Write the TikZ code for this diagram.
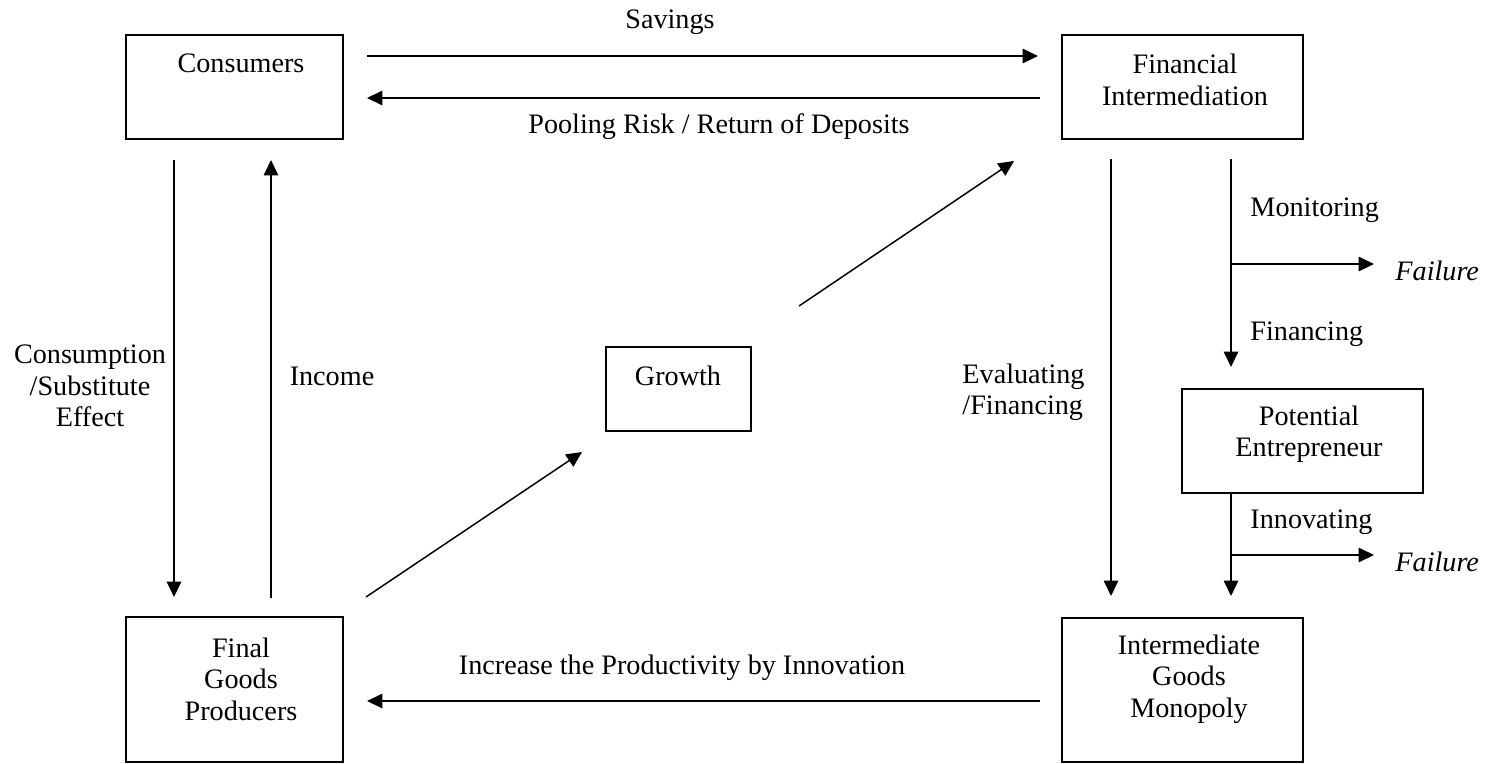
\documentclass[tikz,border=0pt]{standalone}
\usepackage{fontspec}
\setmainfont{Liberation Serif}
\usetikzlibrary{arrows.meta,fit}
\begin{document}
\begin{tikzpicture}[x=0.44pt,y=-0.44pt,
  box/.style={draw,line width=0.7pt,inner sep=0pt},
  txt/.style={inner sep=0pt,font=\fontsize{12.4}{13.8}\selectfont,align=center},
  itx/.style={txt,anchor=west,font=\fontsize{12.4}{13.8}\selectfont\itshape},
  conn/.style={line width=0.65pt,-{Triangle[length=6.8pt,width=6.4pt]}}]
\useasboundingbox (0,0) rectangle (1486,763);
% boxes
\node[box,fit={(126,35) (343,139)}] (cons) {};
\node[box,fit={(1062,35) (1303,139)}] (fin) {};
\node[box,fit={(606,347) (751,431)}] (grow) {};
\node[box,fit={(1182,389) (1423,493)}] (pe) {};
\node[box,fit={(1062,618) (1303,762)}] (ig) {};
\node[box,fit={(126,617) (343,762)}] (fg) {};
% box texts
\node[txt] (tcons) at (241,63) {Consumers};
\node[txt] (tfin) at (1185,80) {Financial\\Intermediation};
\node[txt] (tgrow) at (678,376) {Growth};
\node[txt] (tpe) at (1309,434) {Potential\\Entrepreneur};
\node[txt] (tig) at (1189,679) {Intermediate\\Goods\\Monopoly};
\node[txt] (tfg) at (241,679) {Final\\Goods\\Producers};
% labels
\node[txt] (lsav) at (670,22) {Savings};
\node[txt] (lpool) at (719,127) {Pooling Risk / Return of Deposits};
\node[txt] (lcons) at (90,386) {Consumption\\/Substitute\\Effect};
\node[txt] (linc) at (332,376) {Income};
\node[txt,anchor=west,align=left] (leval) at (962,392) {Evaluating\\/Financing};
\node[txt,anchor=west] (lmon) at (1250,210) {Monitoring};
\node[txt,anchor=west] (lfinc) at (1250,334) {Financing};
\node[txt,anchor=west] (linn) at (1250,522) {Innovating};
\node[itx] (fail1) at (1395,271) {Failure};
\node[itx] (fail2) at (1395,562) {Failure};
\node[txt] (lincr) at (682,668) {Increase the Productivity by Innovation};
% connector end points
\coordinate (savA) at (367,56); \coordinate (savB) at (1038,56);
\coordinate (retA) at (1040,98); \coordinate (retB) at (367,98);
\coordinate (conA) at (174,160); \coordinate (conB) at (174,597);
\coordinate (incA) at (271,598); \coordinate (incB) at (271,160);
\coordinate (g1A) at (366,597); \coordinate (g1B) at (582,452);
\coordinate (g2A) at (799,306); \coordinate (g2B) at (1014,161);
\coordinate (evA) at (1111,159); \coordinate (evB) at (1111,596);
\coordinate (fnA) at (1231,159); \coordinate (fnB) at (1231,367);
\coordinate (f1A) at (1231,264); \coordinate (f1B) at (1374,264);
\coordinate (peA) at (1231,493); \coordinate (peB) at (1231,596);
\coordinate (f2A) at (1231,555); \coordinate (f2B) at (1374,555);
\coordinate (btA) at (1040,701); \coordinate (btB) at (367,701);
% connectors
\draw[conn] (savA) -- (savB);
\draw[conn] (retA) -- (retB);
\draw[conn] (conA) -- (conB);
\draw[conn] (incA) -- (incB);
\draw[conn] (g1A) -- (g1B);
\draw[conn] (g2A) -- (g2B);
\draw[conn] (evA) -- (evB);
\draw[conn] (fnA) -- (fnB);
\draw[conn] (f1A) -- (f1B);
\draw[conn] (peA) -- (peB);
\draw[conn] (f2A) -- (f2B);
\draw[conn] (btA) -- (btB);
\end{tikzpicture}
\end{document}
